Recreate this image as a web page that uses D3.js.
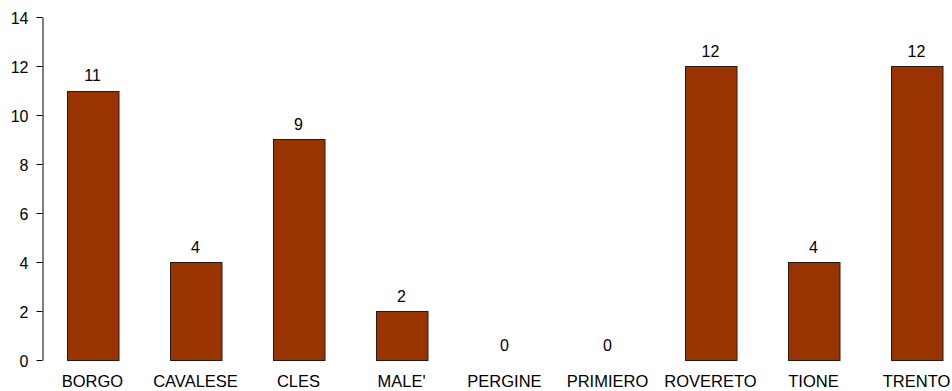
<!DOCTYPE html>
<html>
<head>
<meta charset="utf-8">
<script src="https://cdn.jsdelivr.net/npm/d3@7"></script>
<style>
  html, body { margin: 0; padding: 0; background: #fff; }
  svg { display: block; }
  text { font-family: Arial, "Liberation Sans", sans-serif; fill: #000; }
</style>
</head>
<body>
<svg id="chart" width="952" height="391"></svg>
<script>
const categories = ["BORGO", "CAVALESE", "CLES", "MALE'", "PERGINE", "PRIMIERO", "ROVERETO", "TIONE", "TRENTO"];
const values = [11, 4, 9, 2, 0, 0, 12, 4, 12];
const yTicks = [0, 2, 4, 6, 8, 10, 12, 14];

const svg = d3.select("#chart");

const x = d3.scaleBand()
  .domain(categories)
  .range([41, 968])
  .paddingInner(0.5)
  .paddingOuter(0.25);

const y = d3.scaleLinear()
  .domain([0, 14])
  .range([360, 17]);

// value axis
const yAxis = svg.append("g")
  .attr("transform", "translate(42.5,0)")
  .call(d3.axisLeft(y).tickValues(yTicks).tickSize(6).tickSizeOuter(0).tickPadding(8));
yAxis.selectAll("path, line").attr("stroke", "#000");
yAxis.selectAll("text")
  .attr("font-size", 16)
  .attr("dy", "0.4em")
  .attr("font-family", "Arial, 'Liberation Sans', sans-serif");

const data = categories.map((c, i) => ({ c, v: values[i] }));

// bars
svg.append("g").selectAll("rect")
  .data(data.filter(d => d.v > 0))
  .join("rect")
  .attr("x", d => Math.round(x(d.c)) + 0.5)
  .attr("y", d => Math.round(y(d.v)) + 0.5)
  .attr("width", x.bandwidth())
  .attr("height", d => y(0) - Math.round(y(d.v)))
  .attr("fill", "#993300")
  .attr("stroke", "#2b1a10")
  .attr("stroke-width", 1);

// value labels
svg.append("g").selectAll("text")
  .data(data)
  .join("text")
  .attr("x", d => x(d.c) + x.bandwidth() / 2)
  .attr("y", d => y(d.v) - 9.5)
  .attr("text-anchor", "middle")
  .attr("font-size", 16)
  .text(d => d.v);

// category labels
svg.append("g").selectAll("text")
  .data(categories)
  .join("text")
  .attr("x", d => x(d) + x.bandwidth() / 2)
  .attr("y", 387)
  .attr("text-anchor", "middle")
  .attr("font-size", 16.5)
  .text(d => d);
</script>
</body>
</html>
